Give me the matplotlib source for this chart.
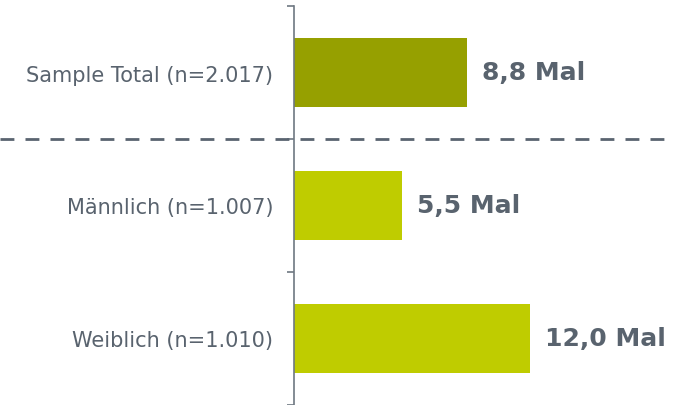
import matplotlib.pyplot as plt
import matplotlib.transforms as mtransforms

# Daten
kategorien = ['Sample Total (n=2.017)', 'Männlich (n=1.007)', 'Weiblich (n=1.010)']
werte = [8.8, 5.5, 12.0]
beschriftungen = ['8,8 Mal', '5,5 Mal', '12,0 Mal']
farben = ['#96A000', '#BFCC00', '#BFCC00']

textfarbe = '#59636E'

fig = plt.figure(figsize=(6.76, 4.06), dpi=100)
ax = fig.add_axes([294 / 676, 0, 382 / 676, 1 - 7 / 406])

pos = list(range(len(werte)))
ax.barh(pos, werte, height=0.526, color=farben)
ax.set_ylim(2.5, -0.5)
ax.set_xlim(0, 382 / 19.7)

# Werte neben den Balken
offset = mtransforms.offset_copy(ax.transData, fig=fig, x=15, y=0, units='dots')
for p, w, t in zip(pos, werte, beschriftungen):
    ax.text(w, p, t, transform=offset, va='center', ha='left',
            fontsize=18, fontweight='bold', color=textfarbe)

# Achsen
for s in ['top', 'right', 'bottom']:
    ax.spines[s].set_visible(False)
ax.spines['left'].set_color('#6E7882')
ax.spines['left'].set_linewidth(1.2)
ax.set_xticks([])
ax.set_yticks(pos)
ax.set_yticklabels(kategorien, fontsize=15, color=textfarbe)
ax.tick_params(axis='y', which='major', length=0, pad=15)
ax.set_yticks([-0.5, 0.5, 1.5, 2.5], minor=True)
ax.tick_params(axis='y', which='minor', length=5, color='#6E7882', width=1.2)

# gestrichelte Trennlinie
trans = mtransforms.blended_transform_factory(fig.transFigure, ax.transData)
ax.plot([0, 0.995], [0.5, 0.5], transform=trans, clip_on=False,
        color='#5A6470', linewidth=2, dashes=(5, 4))

fig.savefig('out.png', dpi=100)
